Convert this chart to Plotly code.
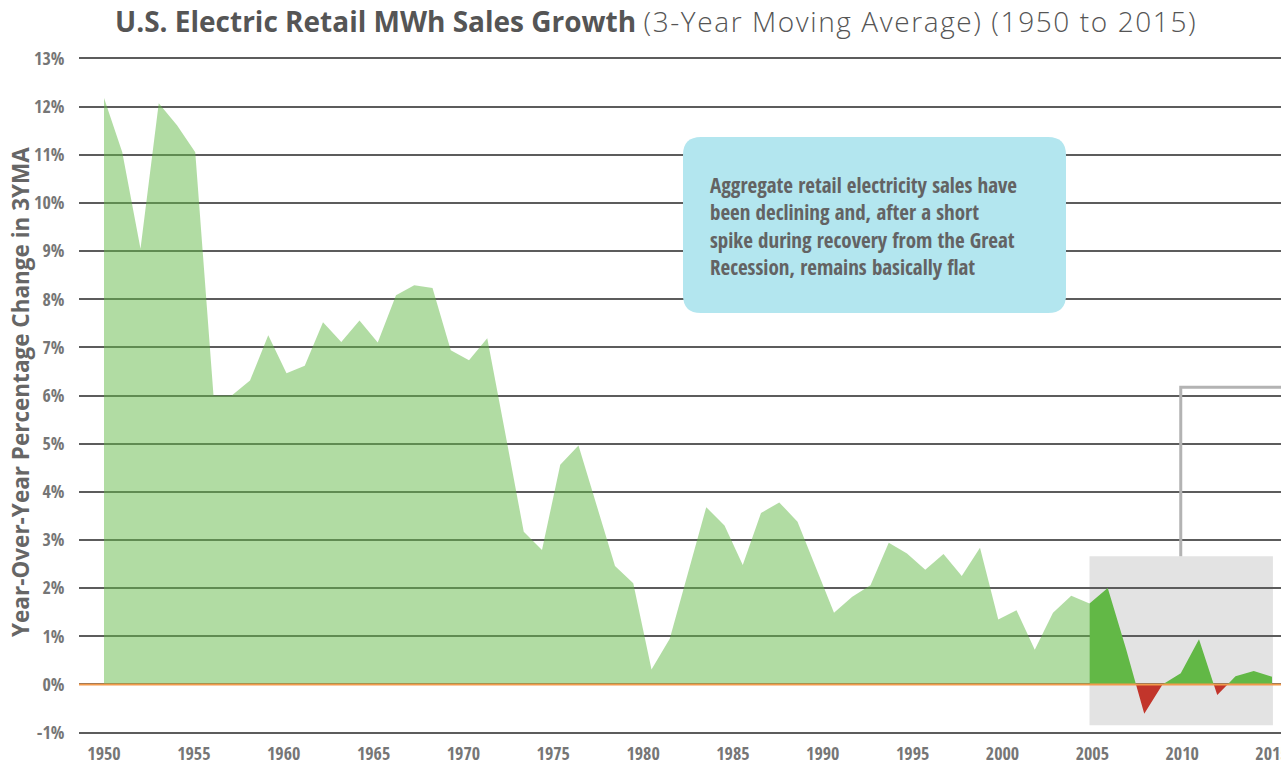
import plotly.graph_objects as go

# ---------------- data ----------------
YEARS = list(range(1951, 2016))
GROWTH = [12.18, 11.05, 9.05, 12.07, 11.61, 11.05, 6.00, 6.00, 6.31, 7.25,
          6.46, 6.62, 7.52, 7.11, 7.56, 7.10, 8.08, 8.29, 8.23, 6.94,
          6.73, 7.19, 5.19, 3.17, 2.79, 4.56, 4.96, 3.71, 2.46, 2.10,
          0.31, 0.95, 2.32, 3.68, 3.30, 2.48, 3.56, 3.78, 3.38, 2.42,
          1.49, 1.82, 2.06, 2.94, 2.72, 2.38, 2.71, 2.25, 2.84, 1.35,
          1.54, 0.72, 1.49, 1.84, 1.68, 2.00, 0.74, -0.61, 0.00, 0.23,
          0.94, -0.22, 0.17, 0.28, 0.16]
X_LABELS = [1950, 1955, 1960, 1965, 1970, 1975, 1980, 1985, 1990, 1995,
            2000, 2005, 2010, 2015]
Y_TICKS = [-1, 0, 1, 2, 3, 4, 5, 6, 7, 8, 9, 10, 11, 12, 13]
Y_TICK_TEXT = [f"{v}%" for v in Y_TICKS]
HIGHLIGHT_START = 2005
HIGHLIGHT_END = 2015
HIGHLIGHT_LOW, HIGHLIGHT_HIGH = -0.85, 2.66
CALLOUT_LEVEL = 6.17
CALLOUT_YEAR = 2010

TITLE_BOLD = "U.S. Electric Retail MWh Sales Growth"
TITLE_LIGHT = "(3-Year Moving Average) (1950 to 2015)"
Y_TITLE = "Year-Over-Year Percentage Change in 3YMA"
NOTE_LINES = ["Aggregate retail electricity sales have",
              "been declining and, after a short",
              "spike during recovery from the Great",
              "Recession, remains basically flat"]

# ---------------- styles ----------------
LIGHT_GREEN = "rgba(99,185,71,0.50)"
DARK_GREEN = "#62b846"
RED = "#c2352b"
GRID = "#5c5c5c"
TEXT = "#636363"
NARROW = "Open Sans Condensed, Open Sans, sans-serif"
HEAD = "Open Sans, Lato, sans-serif"


def narrow(s):
    return f"<span style='font-stretch:75%'>{s}</span>"


W, H = 1281, 765
ML, MR, MT, MB = 79, 0, 57, 31

fig = go.Figure()

# light (history) area
hx = [x for x in YEARS if x <= HIGHLIGHT_START]
hy = [v for x, v in zip(YEARS, GROWTH) if x <= HIGHLIGHT_START]
fig.add_trace(go.Scatter(x=hx, y=hy, mode="lines", fill="tozeroy",
                         fillcolor=LIGHT_GREEN, line=dict(width=0, color=LIGHT_GREEN),
                         hoverinfo="skip", showlegend=False))

# highlighted period split into positive / negative parts
sx = [x for x in YEARS if x >= HIGHLIGHT_START]
sy = [v for x, v in zip(YEARS, GROWTH) if x >= HIGHLIGHT_START]
ax, ay = [sx[0]], [sy[0]]
for i in range(1, len(sx)):
    y0, y1 = sy[i - 1], sy[i]
    if (y0 > 0 and y1 < 0) or (y0 < 0 and y1 > 0):
        t = y0 / (y0 - y1)
        ax.append(sx[i - 1] + t * (sx[i] - sx[i - 1]))
        ay.append(0.0)
    ax.append(sx[i])
    ay.append(y1)
pos = [max(v, 0) for v in ay]
neg = [min(v, 0) for v in ay]
fig.add_trace(go.Scatter(x=ax, y=pos, mode="lines", fill="tozeroy",
                         fillcolor=DARK_GREEN, line=dict(width=0, color=DARK_GREEN),
                         hoverinfo="skip", showlegend=False))
fig.add_trace(go.Scatter(x=ax, y=neg, mode="lines", fill="tozeroy",
                         fillcolor=RED, line=dict(width=0, color=RED),
                         hoverinfo="skip", showlegend=False))

# axis geometry: first data point sits under the first label, last under the last label
px_per_year = 18.25
x_min = YEARS[0] - 25 / px_per_year
x_max = x_min + (W - ML - MR) / px_per_year
span = (YEARS[-1] - YEARS[0]) / (X_LABELS[-1] - X_LABELS[0])
tickvals = [YEARS[0] + (l - X_LABELS[0]) * span for l in X_LABELS]

TICKFONT = dict(family=NARROW, size=18, color="#767676", weight=300)
fig.update_xaxes(range=[x_min, x_max], showgrid=False, zeroline=False, showline=False,
                 tickvals=tickvals, ticktext=[narrow(str(l)) for l in X_LABELS],
                 ticks="outside", ticklen=3, tickcolor="rgba(0,0,0,0)", tickfont=TICKFONT,
                 ticklabeloverflow="allow", automargin=False)
fig.update_yaxes(range=[-1.03, 13.03], tickvals=Y_TICKS,
                 ticktext=[narrow(t) for t in Y_TICK_TEXT],
                 showgrid=True, gridcolor=GRID, gridwidth=1.6, zeroline=False,
                 showline=False, ticks="outside", ticklen=10, tickcolor="rgba(0,0,0,0)",
                 tickfont=TICKFONT, automargin=False)

# highlight box and callout connector
fig.add_shape(type="rect", xref="x", yref="y", x0=HIGHLIGHT_START, x1=HIGHLIGHT_END + 0.05,
              y0=HIGHLIGHT_LOW, y1=HIGHLIGHT_HIGH, fillcolor="#e3e3e3",
              line=dict(width=0), layer="below")
fig.add_shape(type="path", xref="x", yref="y",
              path=f"M {CALLOUT_YEAR},{HIGHLIGHT_HIGH} L {CALLOUT_YEAR},{CALLOUT_LEVEL} L {x_max + 1},{CALLOUT_LEVEL}",
              line=dict(color="#b3b3b3", width=3), layer="above")
# zero line
fig.add_shape(type="line", xref="paper", yref="y", x0=0, x1=1, y0=0, y1=0,
              line=dict(color="#f29a4c", width=2), layer="above")

# rounded note box
pw, ph = W - ML - MR, H - MT - MB


def px2paper(px, py):
    return (px - ML) / pw, (H - MB - py) / ph


bx0, by0 = px2paper(683, 313)
bx1, by1 = px2paper(1066, 137)
rx, ry = 18 / pw, 18 / ph
path = (f"M {bx0+rx},{by0} L {bx1-rx},{by0} Q {bx1},{by0} {bx1},{by0+ry} "
        f"L {bx1},{by1-ry} Q {bx1},{by1} {bx1-rx},{by1} L {bx0+rx},{by1} "
        f"Q {bx0},{by1} {bx0},{by1-ry} L {bx0},{by0+ry} Q {bx0},{by0} {bx0+rx},{by0} Z")
fig.add_shape(type="path", xref="paper", yref="paper", path=path,
              fillcolor="#b3e6ef", line=dict(width=0), layer="above")
nx, ny = px2paper(708, 226)
fig.add_annotation(xref="paper", yref="paper", x=nx, y=ny, xanchor="left", yanchor="middle",
                   text="<br>".join(narrow(s) for s in NOTE_LINES), showarrow=False, align="left",
                   font=dict(family=NARROW, size=21, color=TEXT, weight=300))

# y-axis title
tx, ty = px2paper(20, 392)
fig.add_annotation(xref="paper", yref="paper", x=tx, y=ty, xanchor="center", yanchor="middle",
                   text=f"<b>{Y_TITLE}</b>",
                   textangle=-90, showarrow=False,
                   font=dict(family=HEAD, size=22.5, color="#666666"))

fig.update_layout(
    width=W, height=H, margin=dict(l=ML, r=MR, t=MT, b=MB, pad=0, autoexpand=False),
    paper_bgcolor="white", plot_bgcolor="white", showlegend=False, hovermode=False,
    title=dict(text=(f"<b>{TITLE_BOLD}</b> "
                     f"<span style='font-weight:300;letter-spacing:1.6px'>{TITLE_LIGHT}</span>"),
               x=115 / W, xanchor="left", y=1 - 22 / H, yanchor="middle",
               font=dict(family=HEAD, size=28, color="#555555")),
)

fig.write_html("out.html", config={"displayModeBar": False},
               post_script="document.body.style.margin='0';")
